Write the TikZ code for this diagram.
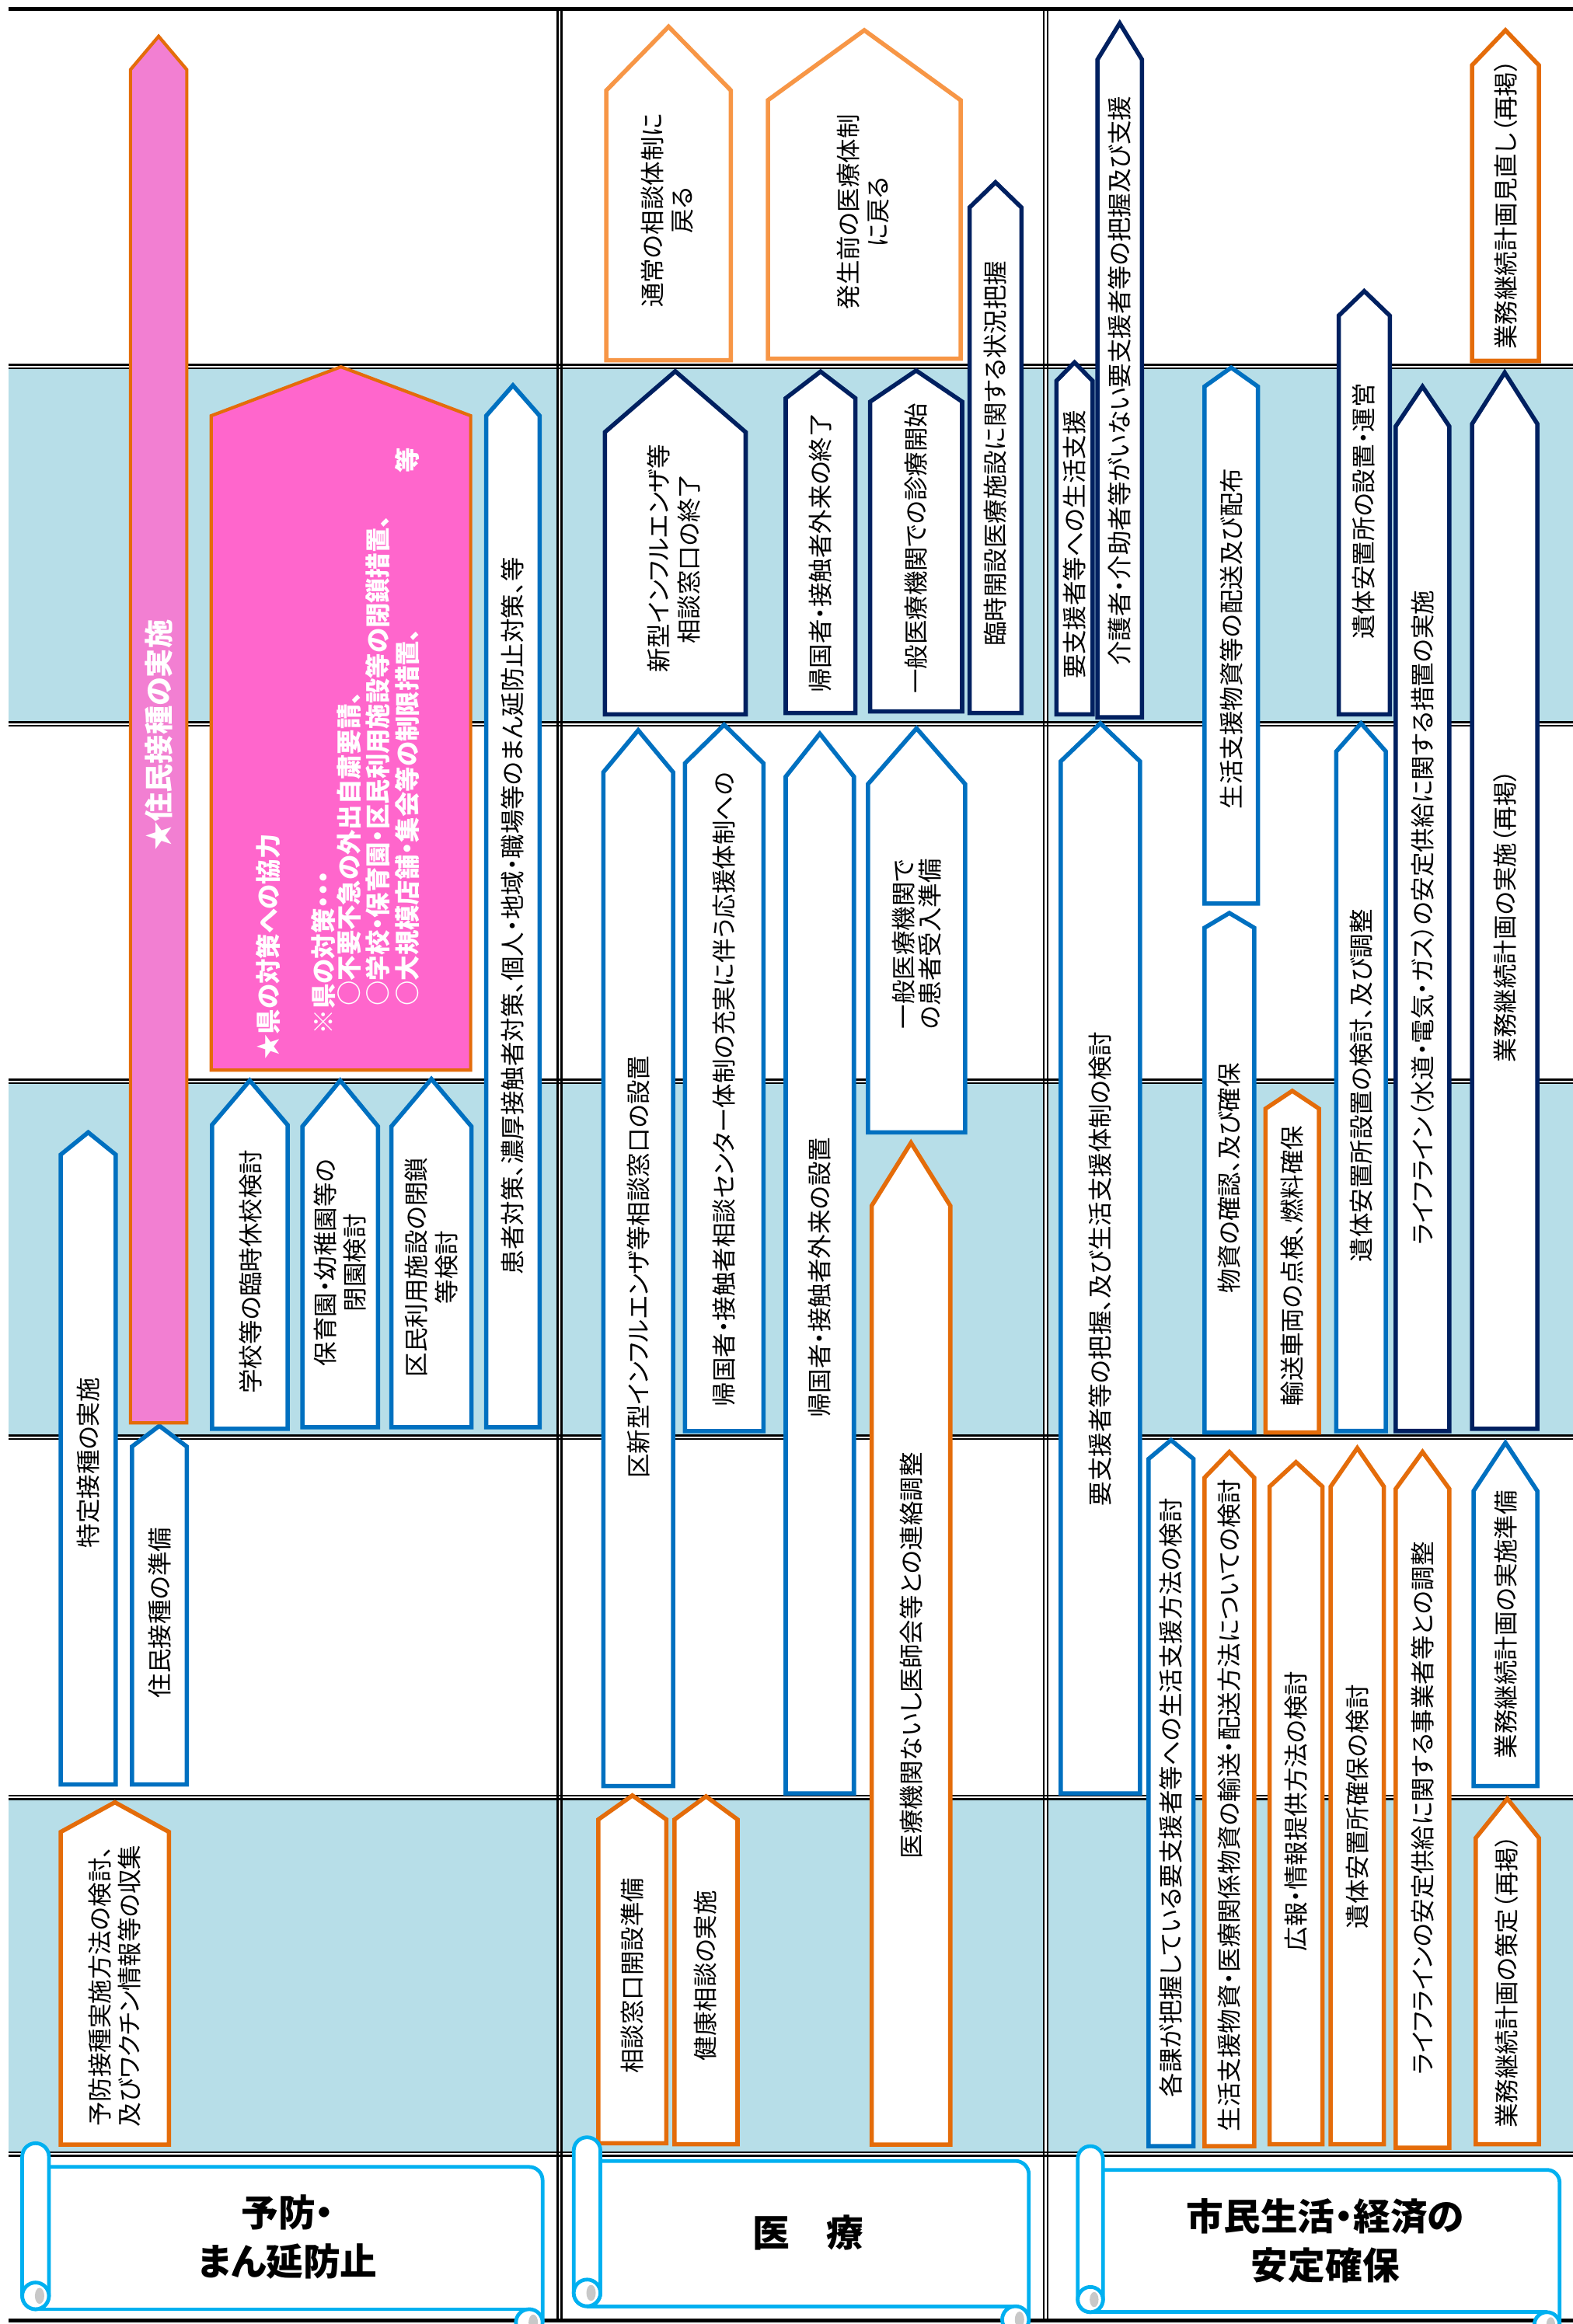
\documentclass[tikz,border=0pt]{standalone}
\usepackage{fontspec}
\setmainfont{Noto Sans CJK JP}[RawFeature={+palt}]
\definecolor{cBlue}{HTML}{0070C0}
\definecolor{cNavy}{HTML}{002060}
\definecolor{cOrange}{HTML}{E46C0A}
\definecolor{cLOrange}{HTML}{F79646}
\definecolor{cPinkA}{HTML}{F27FD2}
\definecolor{cPinkB}{HTML}{FF66CC}
\definecolor{cBand}{HTML}{B7DEE8}
\definecolor{cCyan}{HTML}{00B0F0}
\definecolor{cCurl}{HTML}{C8C8C8}
\tikzset{
  box/.style={fill=white, line width=2.9pt, line join=miter},
  pblue/.style={box, draw=cBlue},
  pnavy/.style={box, draw=cNavy},
  porange/.style={box, draw=cOrange},
  plorange/.style={box, draw=cLOrange},
  ppink/.style={draw=cOrange, fill=cPinkA, line width=2.2pt, line join=miter},
  pbig/.style={draw=cOrange, fill=cPinkB, line width=2.2pt, line join=miter},
  txt/.style={rotate=90, inner sep=0pt, align=center, font=\fontsize{16.5}{20}\selectfont},
  wtxt/.style={rotate=90, inner sep=0pt, anchor=west, text=white, font=\bfseries\fontsize{17}{20}\selectfont},
  lbl/.style={inner sep=0pt, align=center, font=\bfseries\fontsize{25}{33}\selectfont},
  rule/.style={line width=1.3pt},
  scr/.style={draw=cCyan, line width=2.5pt, fill=white},
}
% pentagon arrow: style, x left, x right, y tip, y shoulder, y bottom
\newcommand\pent[6]{\draw[#1] (#2,#6) -- (#2,#5) -- ({(#2+#3)/2},#4) -- (#3,#5) -- (#3,#6) -- cycle;}
% scroll: x0 (roll left), xl (roll right), xr (body right), y roll top, y body top, y bottom
\newcommand\scrollshape[6]{%
  \pgfmathsetmacro\scrR{(#2-#1)/2}%
  \fill[white] (#2,#5) -- ({#3-\scrR},#5) arc[start angle=-90,end angle=0,radius=\scrR] -- (#3,#6) -- (#2,#6) -- cycle;
  \draw[scr,fill=none] (#2,#5) -- ({#3-\scrR},#5) arc[start angle=-90,end angle=0,radius=\scrR] -- (#3,{#6+\scrR});
  \draw[scr,fill=none] ({#1+\scrR},#6) -- ({#3-\scrR},#6);
  \filldraw[scr] ({#3-\scrR},{#6+\scrR}) circle (\scrR);
  \fill[cCurl] ({#3-\scrR*0.7},{#6+\scrR}) ellipse [x radius={\scrR*0.35}, y radius={\scrR*0.6}];
  \filldraw[scr] (#1,{#6-\scrR}) -- (#1,{#4+\scrR}) arc[start angle=180,end angle=360,radius=\scrR] -- (#2,{#6-\scrR}) arc[start angle=0,end angle=180,radius=\scrR] -- cycle;
  \draw[scr] ({#1+\scrR},{#6-\scrR}) circle (\scrR);
  \fill[cCurl] ({#1+\scrR*1.3},{#6-\scrR}) ellipse [x radius={\scrR*0.35}, y radius={\scrR*0.6}];
}
\begin{document}
\begin{tikzpicture}[x=1pt,y=-1pt]
\useasboundingbox (0,0) rectangle (1061,1568);
\fill[white] (0,0) rectangle (1061,1568);
% ---- light blue bands
\foreach \xa/\xb in {6/376.2, 378.8/704.1, 706.7/1061}{
  \foreach \ya/\yb in {248.6/487.3, 730.7/968.6, 1213.8/1452.1}{
    \fill[cBand] (\xa,\ya) rectangle (\xb,\yb);
  }
}
% ---- grid lines
\draw[line width=3pt] (6,6) -- (1061,6);
\draw[line width=2.6pt] (6,1565.6) -- (1061,1565.6);
\foreach \yy in {247.4, 488.5, 729.5, 969.8, 1212.6, 1453.3}{
  \draw[rule] (6,\yy-1.2) -- (1061,\yy-1.2);
  \draw[rule] (6,\yy+1.2) -- (1061,\yy+1.2);
}
\foreach \xx in {377.5, 705.4}{
  \draw[rule] (\xx-1.3,6) -- (\xx-1.3,1565.6);
  \draw[rule] (\xx+1.3,6) -- (\xx+1.3,1565.6);
}
% ================= column 1 =================
\pent{porange}{41}{114}{1216}{1236}{1447}
\node[txt] (c1a) at (77.5,1340) {予防接種実施方法の検討、\\及びワクチン情報等の収集};
\pent{pblue}{41}{78}{764}{779}{1204}
\node[txt] (c1b) at (59.5,987) {特定接種の実施};
\pent{pblue}{89}{126}{962}{976}{1204}
\node[txt] (c1c) at (107.5,1088) {住民接種の準備};
\pent{ppink}{88}{126}{24.5}{47}{960}
\node[rotate=90, inner sep=0pt, text=white, font=\bfseries\fontsize{19.5}{22}\selectfont] (c1d) at (107,496) {★住民接種の実施};
\pent{pbig}{142.5}{317.5}{247.5}{280.5}{722}
\node[wtxt] (c1e1) at (181,715) {★県の対策への協力};
\node[wtxt] (c1e2) at (218,698) {※県の対策・・・};
\node[wtxt] (c1e3) at (235.4,679) {○不要不急の外出自粛要請、};
\node[wtxt] (c1e4) at (254.6,679) {○学校・保育園・区民利用施設等の閉鎖措置、};
\node[wtxt] (c1e5) at (274.7,679) {○大規模店舗・集会等の制限措置、};
\node[wtxt] (c1e6) at (274.7,319) {等};
\pent{pblue}{143}{194}{729}{759}{964}
\node[txt] (c1f) at (169,858) {学校等の臨時休校検討};
\pent{pblue}{204}{255}{729}{760}{963}
\node[txt] (c1g) at (229.5,852) {保育園・幼稚園等の\\閉園検討};
\pent{pblue}{264}{318}{728}{760}{963}
\node[txt] (c1h) at (291,855) {区民利用施設の閉鎖\\等検討};
\pent{pblue}{328}{364}{260}{280.5}{963}
\node[txt] (c1i) at (346,618) {患者対策、濃厚接触者対策、個人・地域・職場等のまん延防止対策、等};
% ================= column 2 =================
\pent{plorange}{409}{493}{18}{61}{243}
\node[txt] (c2a) at (450,142) {通常の相談体制に\\戻る};
\pent{plorange}{518}{648}{20.4}{67.6}{242}
\node[txt] (c2b) at (582,143) {発生前の医療体制\\に戻る};
\pent{pnavy}{654}{689}{123}{140}{481}
\node[txt] (c2c) at (671.5,306) {臨時開設医療施設に関する状況把握};
\pent{pnavy}{408}{503}{250.5}{291.6}{482}
\node[txt] (c2d) at (454.5,377) {新型インフルエンザ等\\相談窓口の終了};
\pent{pnavy}{530}{577}{250.7}{268.7}{481}
\node[txt] (c2e) at (553.5,373) {帰国者・接触者外来の終了};
\pent{pnavy}{587}{649}{250}{271}{480}
\node[txt] (c2f) at (618,370) {一般医療機関での診療開始};
\pent{pblue}{407}{454}{492.7}{521}{1205}
\node[txt] (c2g) at (430.5,855) {区新型インフルエンザ等相談窓口の設置};
\pent{pblue}{462}{515}{489}{515}{965.6}
\node[txt] (c2h) at (488.5,735) {帰国者・接触者相談センター体制の充実に伴う応援体制への};
\pent{pblue}{530}{576}{495}{524}{1210}
\node[txt] (c2i) at (553,862) {帰国者・接触者外来の設置};
\pent{pblue}{585.5}{651}{491.4}{529}{764}
\node[txt, font=\fontsize{16.5}{18}\selectfont] (c2j) at (618.5,637) {一般医療機関で\\の患者受入準備};
\pent{porange}{588}{641}{771}{813.5}{1447}
\node[txt] (c2k) at (614.5,1117) {医療機関ないし医師会等との連絡調整};
\pent{porange}{403.6}{449.5}{1211.4}{1227.6}{1446}
\node[txt] (c2l) at (426.5,1333) {相談窓口開設準備};
\pent{porange}{455}{497.5}{1212}{1227.6}{1446.7}
\node[txt] (c2m) at (476,1333) {健康相談の実施};
% ================= column 3 =================
\pent{pnavy}{712.6}{737}{244.5}{257}{482}
\node[txt] (c3a) at (724.8,367.6) {要支援者等への生活支援};
\pent{pnavy}{740.3}{770.3}{15.7}{40.2}{484}
\node[txt] (c3b) at (755.3,257) {介護者・介助者等がいない要支援者等の把握及び支援};
\pent{pblue}{812.5}{848.5}{248}{260.8}{609.6}
\node[txt] (c3c) at (830.5,431) {生活支援物資等の配送及び配布};
\pent{pblue}{812.5}{846}{616}{626}{966.5}
\node[txt] (c3d) at (829,795) {物資の確認、及び確保};
\pent{porange}{853.7}{889.7}{736}{748}{966.5}
\node[txt] (c3e) at (871.7,854) {輸送車両の点検、燃料確保};
\pent{pnavy}{903}{937.5}{196.4}{213}{482}
\node[txt] (c3f) at (920,345) {遺体安置所の設置・運営};
\pent{pblue}{901.4}{934.8}{488}{507}{965.5}
\node[txt] (c3g) at (918,732.5) {遺体安置所設置の検討、及び調整};
\pent{pnavy}{941.5}{977.6}{260.8}{287.6}{965.5}
\node[txt] (c3h) at (959.5,619) {ライフライン（水道・電気・ガス）の安定供給に関する措置の実施};
\pent{porange}{993}{1038}{20.4}{44}{243.5}
\node[txt] (c3i) at (1015.5,138) {業務継続計画見直し（再掲）};
\pent{pnavy}{993}{1037}{251.4}{286}{964}
\node[txt] (c3j) at (1015,618) {業務継続計画の実施（再掲）};
\pent{pblue}{715.5}{769}{488}{513.7}{1210}
\node[txt] (c3k) at (742,856) {要支援者等の把握、及び生活支援体制の検討};
\pent{pblue}{994}{1037}{973.4}{1006}{1205}
\node[txt] (c3l) at (1015.5,1096) {業務継続計画の実施準備};
\pent{pblue}{774.8}{805}{971.6}{984.3}{1448}
\node[txt] (c3m) at (790,1213) {各課が把握している要支援者等への生活支援方法の検討};
\pent{porange}{812.5}{846}{979.6}{997}{1448}
\node[txt] (c3n) at (829,1218) {生活支援物資・医療関係物資の輸送・配送方法についての検討};
\pent{porange}{856.4}{892}{986.5}{1003}{1446.7}
\node[txt] (c3o) at (874,1222) {広報・情報提供方法の検討};
\pent{porange}{897.6}{933.5}{977}{1003}{1446.7}
\node[txt] (c3p) at (915.5,1219) {遺体安置所確保の検討};
\pent{porange}{941.5}{977.6}{979.6}{1004.5}{1449}
\node[txt] (c3q) at (959.5,1220) {ライフラインの安定供給に関する事業者等との調整};
\pent{porange}{995.5}{1038}{1213.6}{1240}{1446.7}
\node[txt] (c3r) at (1016.5,1337) {業務継続計画の策定（再掲）};
% ================= labels =================
\scrollshape{15}{33}{366}{1446}{1462}{1558}
\node[lbl] (lab1) at (194,1509.5) {予防・\\まん延防止};
\scrollshape{387}{405}{694}{1442}{1458}{1556}
\node[lbl] (lab2) at (545,1506.6) {医　療};
\scrollshape{727}{744}{1052}{1448}{1464}{1560}
\node[lbl] (lab3) at (894,1511.7) {市民生活・経済の\\安定確保};
\end{tikzpicture}
\end{document}
